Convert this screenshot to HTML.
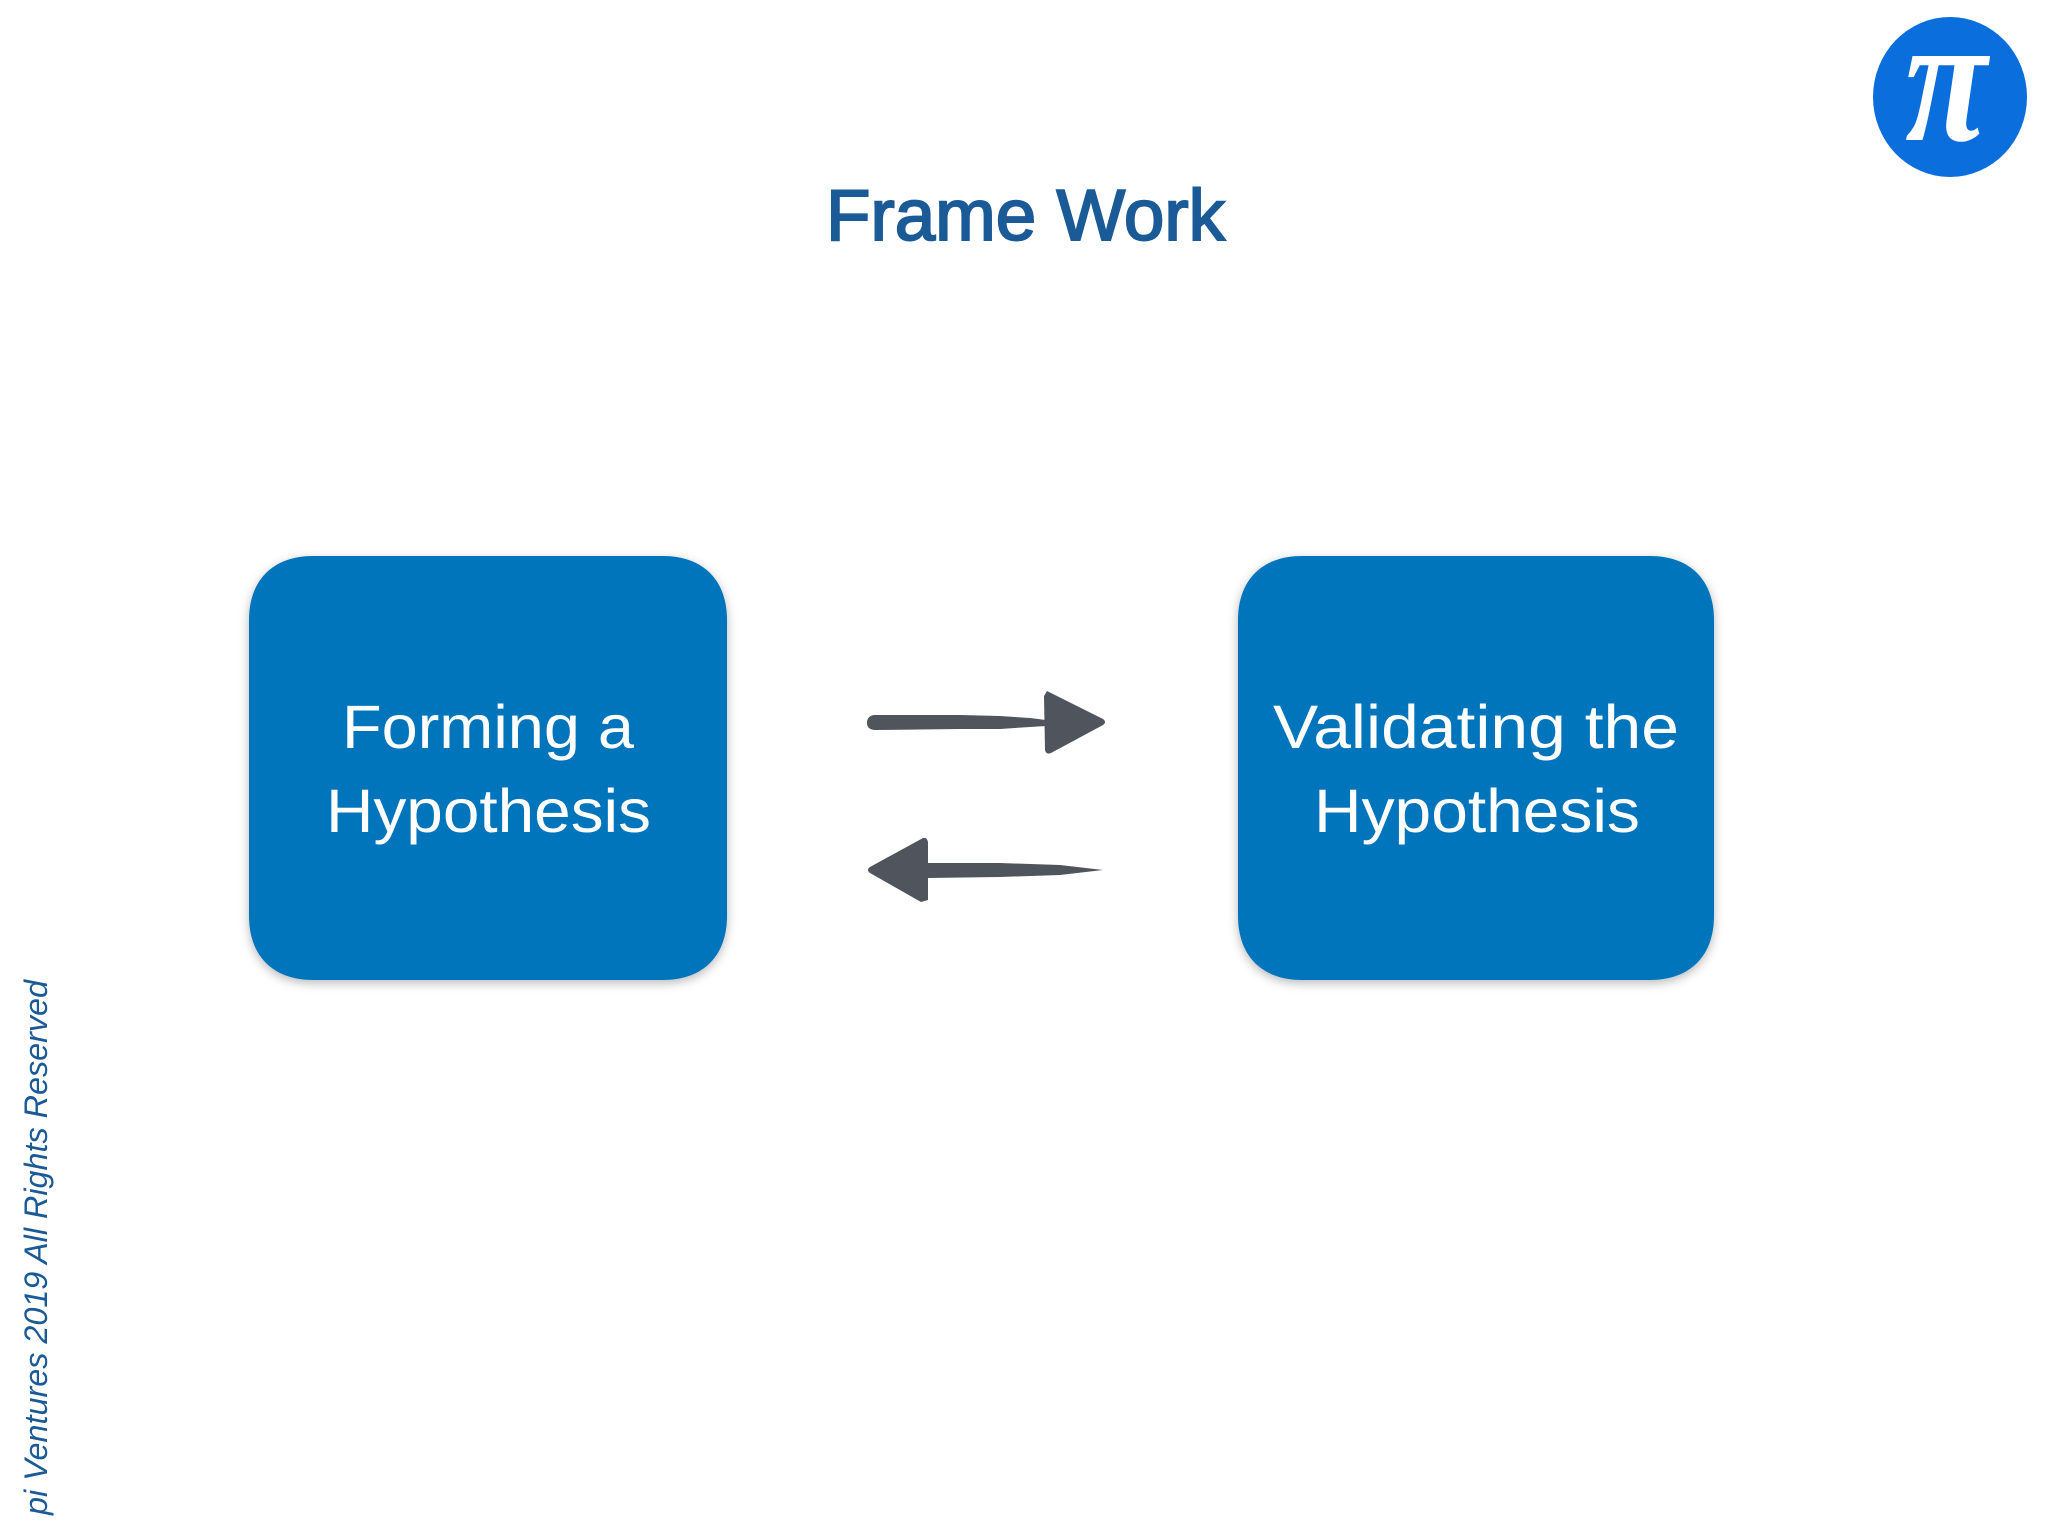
<!DOCTYPE html>
<html><head><meta charset="utf-8"><style>
html,body{margin:0;padding:0;background:#fff}
svg{display:block}
</style></head><body>
<svg xmlns="http://www.w3.org/2000/svg" width="2048" height="1536" viewBox="0 0 2048 1536">
<defs><filter id="s" x="-10%" y="-10%" width="120%" height="120%"><feDropShadow dx="0" dy="3" stdDeviation="5" flood-color="#000" flood-opacity=".28"/></filter></defs>
<rect width="2048" height="1536" fill="#fff"/>
<ellipse cx="1950" cy="97" rx="77" ry="80" fill="#0a6fdc"/>
<text transform="translate(1946 140) scale(1 1.22)" text-anchor="middle" font-family="'Liberation Serif',serif" font-style="italic" font-size="150" font-weight="bold" fill="#fff">π</text>
<text x="826" y="240" font-family="'Liberation Sans',sans-serif" font-size="72" fill="#1a5a96" stroke="#1a5a96" stroke-width="2" textLength="399" lengthAdjust="spacingAndGlyphs">Frame Work</text>
<path filter="url(#s)" fill="#0275bb" d="M313 556H663C703 556 727 580 727 620V916C727 956 703 980 663 980H313C273 980 249 956 249 916V620C249 580 273 556 313 556Z"/>
<path filter="url(#s)" fill="#0275bb" d="M1302 556H1650C1690 556 1714 580 1714 620V916C1714 956 1690 980 1650 980H1302C1262 980 1238 956 1238 916V620C1238 580 1262 556 1302 556Z"/>
<g font-family="'Liberation Sans',sans-serif" font-size="61" fill="#fff">
<text x="342" y="748" textLength="292" lengthAdjust="spacingAndGlyphs">Forming a</text>
<text x="326" y="832" textLength="325" lengthAdjust="spacingAndGlyphs">Hypothesis</text>
<text x="1273" y="748" textLength="406" lengthAdjust="spacingAndGlyphs">Validating the</text>
<text x="1314" y="832" textLength="326" lengthAdjust="spacingAndGlyphs">Hypothesis</text>
</g>
<g fill="#50545c">
<path d="M874 715L960 715L1000 716L1030 718L1046 720L1046 726L1030 727L1000 729L960 729L874 730Q867 729 867 723Q867 716 874 715Z"/>
<path d="M1047 691L1103 719Q1107 722 1103 725L1051 753Q1046 755 1045 750L1044 696Z"/>
<path d="M928 863L1000 863L1060 865L1103 870L1060 875L1000 877L928 878Z"/>
<path d="M923 838L870 867Q866 870 870 873L921 902L928 900L928 842Q927 837 923 838Z"/>
</g>
<text transform="translate(47 1515) rotate(-90)" font-family="'Liberation Sans',sans-serif" font-style="italic" font-size="32" fill="#1a5a96" textLength="535" lengthAdjust="spacingAndGlyphs">pi Ventures 2019 All Rights Reserved</text>
</svg>
</body></html>
